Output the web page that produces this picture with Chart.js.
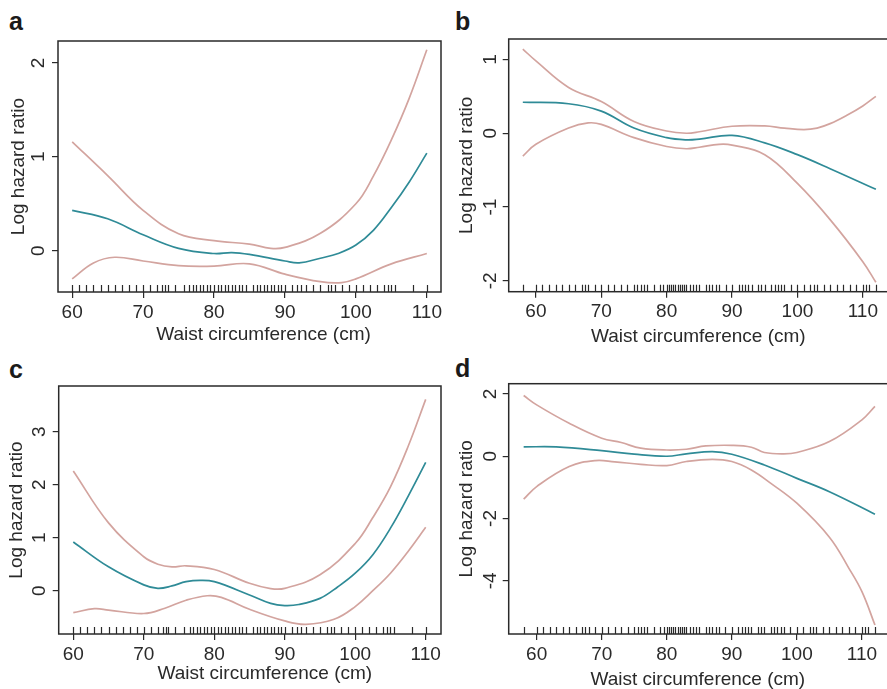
<!DOCTYPE html>
<html>
<head>
<meta charset="utf-8">
<script src="https://cdn.jsdelivr.net/npm/chart.js@4.4.1/dist/chart.umd.min.js"></script>
<style>
  html, body { margin:0; padding:0; background:#fff; overflow:hidden; width:887px; height:689px; }
  canvas { position:absolute; }
  .lbl { position:absolute; font-family:"Liberation Sans", Arial, sans-serif; font-weight:bold; font-size:25px; line-height:25px; color:#1a1a1a; }
</style>
</head>
<body>
<div class="lbl" style="left:9px;top:9px;">a</div>
<div class="lbl" style="left:455px;top:9px;">b</div>
<div class="lbl" style="left:9px;top:357px;">c</div>
<div class="lbl" style="left:455px;top:356px;">d</div>
<canvas id="ca"></canvas>
<canvas id="cb"></canvas>
<canvas id="cc"></canvas>
<canvas id="cd"></canvas>
<script>
// ---------- DATA ----------
const xTitle = "Waist circumference (cm)";
const yTitle = "Log hazard ratio";
const xTicks = [60, 70, 80, 90, 100, 110];

// Panel a
const aYTicks = [0, 1, 2];
const aFitX = [60, 65, 70, 75, 80, 82.5, 85, 90, 92, 95, 97.5, 100, 102.5, 105, 107.5, 110];
const aFit  = [0.43, 0.34, 0.17, 0.025, -0.03, -0.02, -0.04, -0.11, -0.13, -0.08, -0.03, 0.06, 0.22, 0.46, 0.73, 1.04];
const aUpX  = [60, 65, 70, 75, 80, 85, 88, 90, 95, 100, 102.5, 105, 107.5, 110];
const aUp   = [1.16, 0.80, 0.43, 0.18, 0.107, 0.07, 0.025, 0.035, 0.185, 0.50, 0.80, 1.18, 1.62, 2.14];
const aLoX  = [60, 63, 66, 70, 75, 80, 85, 90, 95, 98, 100, 105, 110];
const aLo   = [-0.30, -0.13, -0.07, -0.11, -0.16, -0.165, -0.14, -0.25, -0.33, -0.34, -0.30, -0.14, -0.03];

// Panel b
const bYTicks = [-2, -1, 0, 1];
const bFitX = [58, 65, 70, 75, 80, 83, 85, 90, 95, 100, 105, 112];
const bFit  = [0.42, 0.40, 0.30, 0.07, -0.06, -0.09, -0.08, -0.03, -0.13, -0.29, -0.48, -0.76];
const bUpX  = [58, 60, 65, 70, 75, 80, 83, 85, 90, 95, 98, 101, 103, 105, 107.5, 110, 112];
const bUp   = [1.14, 0.98, 0.62, 0.43, 0.16, 0.03, 0.0, 0.02, 0.095, 0.10, 0.07, 0.05, 0.07, 0.13, 0.24, 0.37, 0.50];
const bLoX  = [58, 60, 65, 68, 70, 75, 80, 83, 85, 88, 90, 95, 100, 105, 110, 112];
const bLo   = [-0.31, -0.15, 0.07, 0.14, 0.12, -0.06, -0.18, -0.21, -0.19, -0.15, -0.16, -0.29, -0.68, -1.17, -1.74, -2.02];

// Panel c
const cYTicks = [0, 1, 2, 3];
const cFitX = [60, 65, 70, 72, 74, 76, 78, 80, 85, 88, 90, 92, 95, 97.5, 100, 102.5, 105, 107.5, 110];
const cFit  = [0.92, 0.45, 0.11, 0.045, 0.09, 0.17, 0.195, 0.17, -0.08, -0.24, -0.28, -0.26, -0.145, 0.07, 0.33, 0.68, 1.18, 1.78, 2.42];
const cUpX  = [60, 65, 70, 72, 74, 76, 80, 85, 88, 90, 95, 100, 102.5, 105, 107.5, 110];
const cUp   = [2.26, 1.28, 0.64, 0.50, 0.45, 0.47, 0.40, 0.14, 0.04, 0.045, 0.30, 0.89, 1.38, 1.96, 2.72, 3.61];
const cLoX  = [60, 63, 65, 70, 73, 76, 79, 81, 85, 90, 93, 97, 100, 102.5, 105, 107.5, 110];
const cLo   = [-0.415, -0.34, -0.365, -0.43, -0.33, -0.18, -0.095, -0.125, -0.35, -0.57, -0.635, -0.54, -0.30, 0.0, 0.33, 0.74, 1.195];

// Panel d
const dYTicks = [-4, -2, 0, 2];
const dFitX = [58, 63, 70, 75, 80, 83, 87, 90, 95, 100, 105, 112];
const dFit  = [0.30, 0.30, 0.18, 0.065, 0.0, 0.075, 0.15, 0.065, -0.28, -0.71, -1.14, -1.86];
const dUpX  = [58, 60, 65, 70, 73, 76, 80, 83, 86, 90, 93, 95, 98, 100, 105, 110, 112];
const dUp   = [1.95, 1.65, 1.06, 0.58, 0.44, 0.26, 0.20, 0.225, 0.33, 0.35, 0.29, 0.12, 0.075, 0.12, 0.47, 1.17, 1.60];
const dLoX  = [58, 60, 65, 69, 72, 76, 80, 83, 87, 90, 93, 96, 100, 105, 108, 110, 112];
const dLo   = [-1.38, -0.975, -0.33, -0.14, -0.18, -0.26, -0.30, -0.17, -0.10, -0.17, -0.44, -0.87, -1.51, -2.6, -3.6, -4.35, -5.42];

// Rug (observed waist values)
const rugAC = [60,61,62,63,64,65,66,67,68,69,70,71,72,72.7,73.1,73.5,74.5,75.7,76.5,77,77.5,78,78.5,79,79.5,80,80.5,81,81.5,82,82.5,83,83.5,84,84.5,85.5,86,86.5,87,87.5,88,88.5,89,89.5,90,91,91.7,92.3,93,94,95,96,96.5,97,98,99,100,101,102,103,104,104.5,105,105.5,108,110];
const rugBD = [58,60,61,62,63,64,65,66,67,67.5,68,69,70,71,72,73,74,75,75.5,76,76.5,77,78,79,79.5,80,80.3,80.7,81,81.3,81.7,82,82.3,82.7,83,83.5,84,84.5,85,86,86.5,87,87.5,88,89,90,91,91.5,92,92.5,93,94,94.5,95,96,96.5,97,97.5,98,99,100,101,102,102.5,103,104,105,106,107,108,109,110,110.5,111,112];

// ---------- STYLE ----------
const TEAL = "#2f8b97";
const PINK = "#d3a49f";
const INK = "#2a2a2a";
const FONT = "'Liberation Sans', Arial, sans-serif";
const FS = 19;

const framePlugin = {
  id: 'frame',
  afterDatasetsDraw(chart, args, opts) {
    const {ctx, chartArea: {left, top, right, bottom}, scales: {x}} = chart;
    ctx.save();
    ctx.strokeStyle = INK;
    ctx.lineWidth = 1.5;
    ctx.strokeRect(left, top, right - left, bottom - top);
    ctx.lineWidth = 1.2;
    ctx.beginPath();
    (opts.rug || []).forEach(v => {
      const px = Math.round(x.getPixelForValue(v)) + 0.5;
      ctx.moveTo(px, bottom);
      ctx.lineTo(px, bottom - 7);
    });
    ctx.stroke();
    // x-axis title (centred with the panel's offset)
    ctx.fillStyle = INK;
    ctx.font = FS + "px " + FONT;
    ctx.textAlign = 'center';
    ctx.textBaseline = 'middle';
    ctx.fillText(opts.xTitle, (left + right) / 2 + opts.titleShift, opts.titleY);
    ctx.restore();
  }
};

function pts(xs, ys) { return xs.map((v, i) => ({x: v, y: ys[i]})); }

function makePanel(id, box, area, xr, yr, yTicks, series, rug, yTickPad, yTitlePad, titleShift, titleY) {
  const cv = document.getElementById(id);
  cv.width = box.w; cv.height = box.h;
  cv.style.left = box.l + 'px'; cv.style.top = box.t + 'px';
  const ds = series.map(s => ({
    data: pts(s[0], s[1]), borderColor: s[2], borderWidth: 1.7,
    pointRadius: 0, fill: false, tension: 0.4
  }));
  new Chart(cv, {
    type: 'line',
    data: { datasets: ds },
    plugins: [framePlugin],
    options: {
      responsive: false, animation: false, devicePixelRatio: 1,
      layout: { padding: { left: 0, top: area.t - box.t, right: box.l + box.w - area.r, bottom: 0 } },
      plugins: { legend: { display: false }, tooltip: { enabled: false },
                 frame: { rug: rug, xTitle: xTitle, titleShift: titleShift, titleY: titleY - box.t } },
      scales: {
        x: {
          type: 'linear', min: xr[0], max: xr[1],
          afterFit: s => { s.height = box.t + box.h - area.b; },
          afterBuildTicks: s => { s.ticks = xTicks.map(v => ({value: v})); },
          border: { display: false },
          grid: { drawOnChartArea: false, drawTicks: true, tickLength: 6, color: INK, lineWidth: 1.2 },
          ticks: { color: INK, font: { family: FONT, size: FS }, padding: 3, maxRotation: 0, autoSkip: false },
          title: { display: false }
        },
        y: {
          type: 'linear', min: yr[0], max: yr[1],
          afterFit: s => { s.width = area.l - box.l; },
          afterBuildTicks: s => { s.ticks = yTicks.map(v => ({value: v})); },
          border: { display: false },
          grid: { drawOnChartArea: false, drawTicks: true, tickLength: 6, color: INK, lineWidth: 1.2 },
          ticks: { color: INK, font: { family: FONT, size: FS }, padding: yTickPad, minRotation: 90, maxRotation: 90, crossAlign: 'center', autoSkip: false },
          title: { display: true, text: yTitle, color: INK, font: { family: FONT, size: FS }, padding: { top: yTitlePad, bottom: 0 } }
        }
      }
    }
  });
}

makePanel('ca', {l: 0, t: 0, w: 450, h: 348}, {l: 58, t: 41, r: 441, b: 292},
  [58, 112], [-0.44, 2.234], aYTicks,
  [[aUpX, aUp, PINK], [aLoX, aLo, PINK], [aFitX, aFit, TEAL]], rugAC, 8, 7, 14, 334.5);

makePanel('cb', {l: 450, t: 0, w: 450, h: 350}, {l: 508.7, t: 39, r: 890, b: 291.7},
  [55.84, 114.16], [-2.147, 1.277], bYTicks,
  [[bUpX, bUp, PINK], [bLoX, bLo, PINK], [bFitX, bFit, TEAL]], rugBD, 3, 5, -1, 337);

makePanel('cc', {l: 0, t: 345, w: 450, h: 342}, {l: 58.7, t: 386, r: 441, b: 634},
  [57.93, 112.17], [-0.817, 3.862], cYTicks,
  [[cUpX, cUp, PINK], [cLoX, cLo, PINK], [cFitX, cFit, TEAL]], rugAC, 8, 5, 15, 674);

makePanel('cd', {l: 450, t: 345, w: 450, h: 348}, {l: 508.7, t: 383.7, r: 889, b: 634},
  [55.7, 114.16], [-5.71, 2.33], dYTicks,
  [[dUpX, dUp, PINK], [dLoX, dLo, PINK], [dFitX, dFit, TEAL]], rugBD, 3, 5, -1, 680);
</script>
</body>
</html>
